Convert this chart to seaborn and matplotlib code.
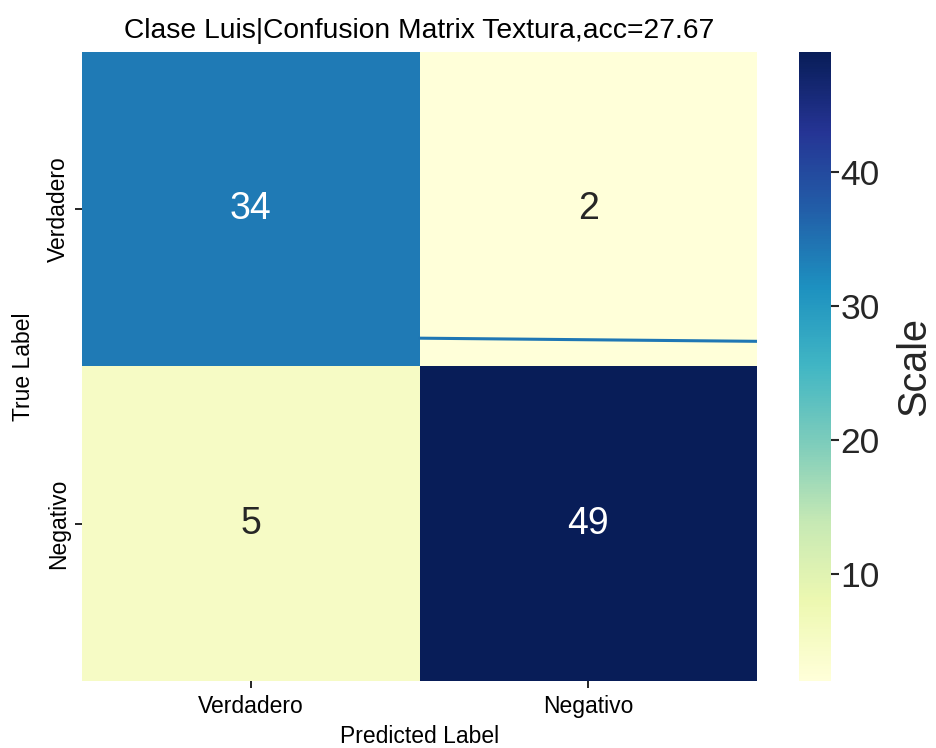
import matplotlib
matplotlib.use("Agg")
import matplotlib.pyplot as plt
import seaborn as sns
import numpy as np
import pandas as pd

# Confusion matrix counts
class_names = ["Verdadero", "Negativo"]
row_verdadero = [34, 2]
row_negativo = [5, 49]
accuracy = 27.67

# Overlaid trace (x in cell units, y in cell units)
trace_x = [1.0, 2.0]
trace_y = [0.91, 0.92]

sns.set_theme(style="ticks")
plt.rcParams["font.family"] = ["Liberation Sans", "DejaVu Sans"]

cm = pd.DataFrame([row_verdadero, row_negativo], index=class_names, columns=class_names)

fig = plt.figure(figsize=(9.36, 7.48), dpi=100)
ax = fig.add_axes([0.0876, 0.0896, 0.7212, 0.8409])
cax = fig.add_axes([0.8536, 0.0896, 0.0342, 0.8409])

sns.heatmap(cm, annot=True, fmt="d", cmap="YlGnBu", ax=ax, cbar_ax=cax,
            annot_kws={"fontsize": 27},
            cbar_kws={"label": "Scale"})

ax.plot(trace_x, trace_y, color="#1f77b4", linewidth=2.2)

ax.set_title(f"Clase Luis|Confusion Matrix Textura,acc={accuracy}",
             fontsize=20.3, color="black", pad=10)
ax.set_xlabel("Predicted Label", fontsize=16.5, color="black", labelpad=5)
ax.set_ylabel("True Label", fontsize=16.5, color="black", labelpad=9)
ax.set_xticklabels(class_names, fontsize=16.5, color="black", rotation=0)
ax.set_yticklabels(class_names, fontsize=16.5, color="black", rotation=90, va="center")
ax.tick_params(axis="both", length=5, width=1.2, color="black")
ax.tick_params(axis="x", pad=5)

cax.tick_params(labelsize=25.5, length=5.5, width=1.5, pad=1.5)
cax.set_ylabel("Scale", fontsize=28.5, labelpad=11)

fig.savefig("out.png", dpi=100)
